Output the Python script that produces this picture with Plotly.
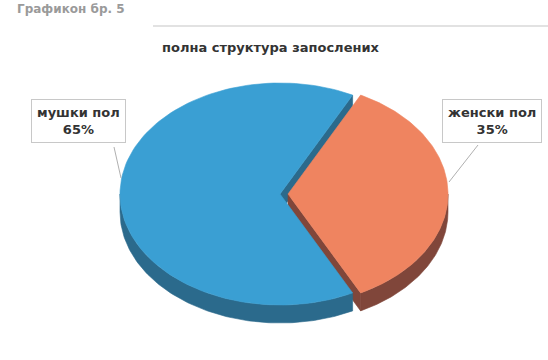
import math
import plotly.graph_objects as go

# Data
labels = ["мушки пол", "женски пол"]
values = [65, 35]
title_text = "полна структура запослених"
caption_text = "Графикон бр. 5"

# Styling
top_colors = ["#3a9fd3", "#ef8460"]
wall_colors = ["#2b6a8c", "#80463a"]
pulls = [0, 8]            # explode distance per slice (px)
start_angle = 153         # degrees, clockwise from 12 o'clock
cx, cy = 280, 194         # pie centre on screen
rx, ry = 160, 111         # projected radii of the tilted top face
depth = 18                # thickness of the pie

W, H = 548, 360


def point(c, a_deg, z=0.0):
    a = math.radians(a_deg)
    return c[0] + rx * math.sin(a), c[1] - ry * math.cos(a) + z


def arc(c, a0, a1, z=0.0, n=120):
    pts = []
    for i in range(n + 1):
        a = a0 + (a1 - a0) * i / n
        pts.append(point(c, a, z))
    return pts


def poly(pts, color, line_color=None):
    xs = [p[0] for p in pts] + [pts[0][0]]
    ys = [p[1] for p in pts] + [pts[0][1]]
    return go.Scatter(
        x=xs, y=ys, mode="lines", fill="toself", fillcolor=color,
        line=dict(color=line_color or color, width=0.6),
        hoverinfo="skip", showlegend=False,
    )


# Slice angles from values
total = sum(values)
slices = []
a = start_angle
for i, v in enumerate(values):
    span = 360 * v / total
    a0, a1 = a, a + span
    mid = math.radians((a0 + a1) / 2)
    c = (cx + pulls[i] * math.sin(mid), cy - pulls[i] * math.cos(mid) * ry / rx)
    slices.append((i, a0, a1, c))
    a = a1

radial_walls, outer_walls, tops = [], [], []
for i, a0, a1, c in slices:
    # radial cut walls facing the viewer
    for edge, normal in ((a0, a0 - 90), (a1, a1 + 90)):
        if math.cos(math.radians(normal)) < 0:
            p_top = point(c, edge)
            p_bot = point(c, edge, depth)
            radial_walls.append(poly([c, p_top, p_bot, (c[0], c[1] + depth)],
                                     wall_colors[i]))
    # outer rim: visible part lies between 90 and 270 degrees
    for k in (-1, 0, 1):
        lo, hi = 90 + 360 * k, 270 + 360 * k
        b0, b1 = max(a0, lo), min(a1, hi)
        if b1 > b0:
            pts = arc(c, b0, b1) + arc(c, b1, b0, depth)
            outer_walls.append(poly(pts, wall_colors[i]))
    tops.append(poly([c] + arc(c, a0, a1), top_colors[i]))

fig = go.Figure(radial_walls + outer_walls + tops)

font_family = "DejaVu Sans"
text_color = "#333333"

# Title and caption
fig.add_annotation(x=271, y=47, xref="x", yref="y", text=f"<b>{title_text}</b>",
                   showarrow=False, font=dict(family=font_family, size=13, color=text_color))
fig.add_annotation(x=15, y=0, xref="x", yref="y", text=f"<b>{caption_text}</b>",
                   xanchor="left", yanchor="top", showarrow=False,
                   font=dict(family=font_family, size=12, color="#9a9a9a"))

# Chart frame top edge
fig.add_shape(type="line", x0=153, x1=W, y0=26, y1=26, xref="x", yref="y",
              line=dict(color="#d8d8d8", width=1.5))

# Data labels with leader lines
label_pos = [(78, 121), (492, 121)]
leaders = [((114, 147), (121, 178)), ((478, 145), (449, 182))]
for i, (lx, ly) in enumerate(label_pos):
    (x0, y0), (x1, y1) = leaders[i]
    fig.add_shape(type="line", x0=x0, y0=y0, x1=x1, y1=y1, xref="x", yref="y",
                  line=dict(color="#b0b0b0", width=1))
    pct = round(100 * values[i] / total)
    fig.add_annotation(x=lx, y=ly, xref="x", yref="y",
                       text=f"<b>{labels[i]}<br>{pct}%</b>", showarrow=False,
                       font=dict(family=font_family, size=13, color=text_color),
                       bgcolor="white", bordercolor="#c8c8c8", borderwidth=1,
                       borderpad=5)

fig.update_xaxes(range=[0, W], visible=False, fixedrange=True)
fig.update_yaxes(range=[H, 0], visible=False, fixedrange=True)
fig.update_layout(width=W, height=H, margin=dict(l=0, r=0, t=0, b=0),
                  paper_bgcolor="white", plot_bgcolor="white", showlegend=False)

fig.write_html("out.html")
